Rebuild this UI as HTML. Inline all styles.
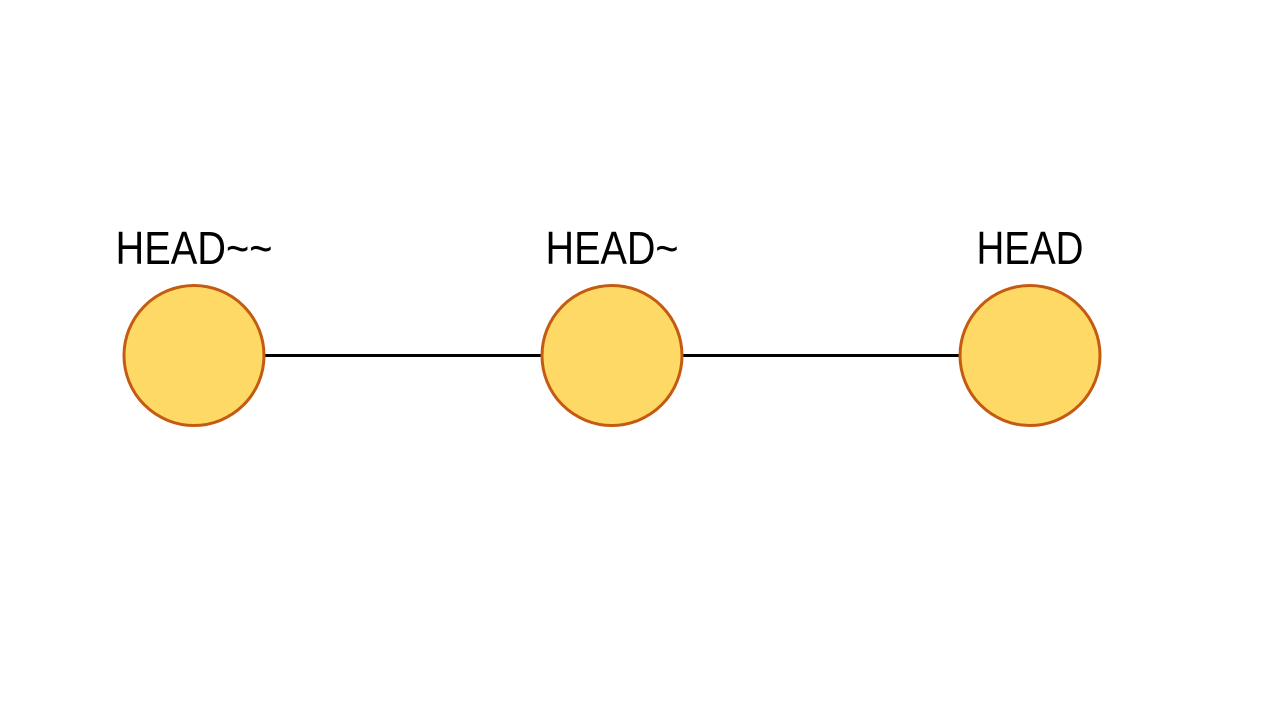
<!DOCTYPE html>
<html>
<head>
<meta charset="utf-8">
<style>
  html,body{margin:0;padding:0;background:#fff;}
  svg{display:block;}
  text{font-family:"Liberation Sans",sans-serif;fill:#000;}
</style>
</head>
<body>
<svg id="chart" width="1280" height="720" viewBox="0 0 1280 720" xmlns="http://www.w3.org/2000/svg"></svg>
<script>
const labels = ["HEAD~~", "HEAD~", "HEAD"];
const positions = [0, 1, 2];
const labelWidths = [157, 133, 107];

const NS = "http://www.w3.org/2000/svg";
const svg = document.getElementById("chart");
const x = i => 194 + i * 418;
const cy = 355.5, r = 70;

for (let i = 0; i < positions.length - 1; i++) {
  const l = document.createElementNS(NS, "line");
  l.setAttribute("x1", x(positions[i]) + r);
  l.setAttribute("x2", x(positions[i + 1]) - r);
  l.setAttribute("y1", cy);
  l.setAttribute("y2", cy);
  l.setAttribute("stroke", "#000");
  l.setAttribute("stroke-width", "3");
  
  
  svg.appendChild(l);
}

positions.forEach((p, i) => {
  const c = document.createElementNS(NS, "circle");
  c.setAttribute("cx", x(p));
  c.setAttribute("cy", cy);
  c.setAttribute("r", r);
  c.setAttribute("fill", "#FFD966");
  c.setAttribute("stroke", "#C55A11");
  c.setAttribute("stroke-width", "3");
  
  
  svg.appendChild(c);

  const t = document.createElementNS(NS, "text");
  t.setAttribute("x", x(p) - labelWidths[i] / 2);
  t.setAttribute("y", 264);
  t.setAttribute("font-size", "46");
  t.setAttribute("textLength", labelWidths[i]);
  t.setAttribute("lengthAdjust", "spacingAndGlyphs");
  t.textContent = labels[i];
  
  
  svg.appendChild(t);
});
</script>
</body>
</html>
